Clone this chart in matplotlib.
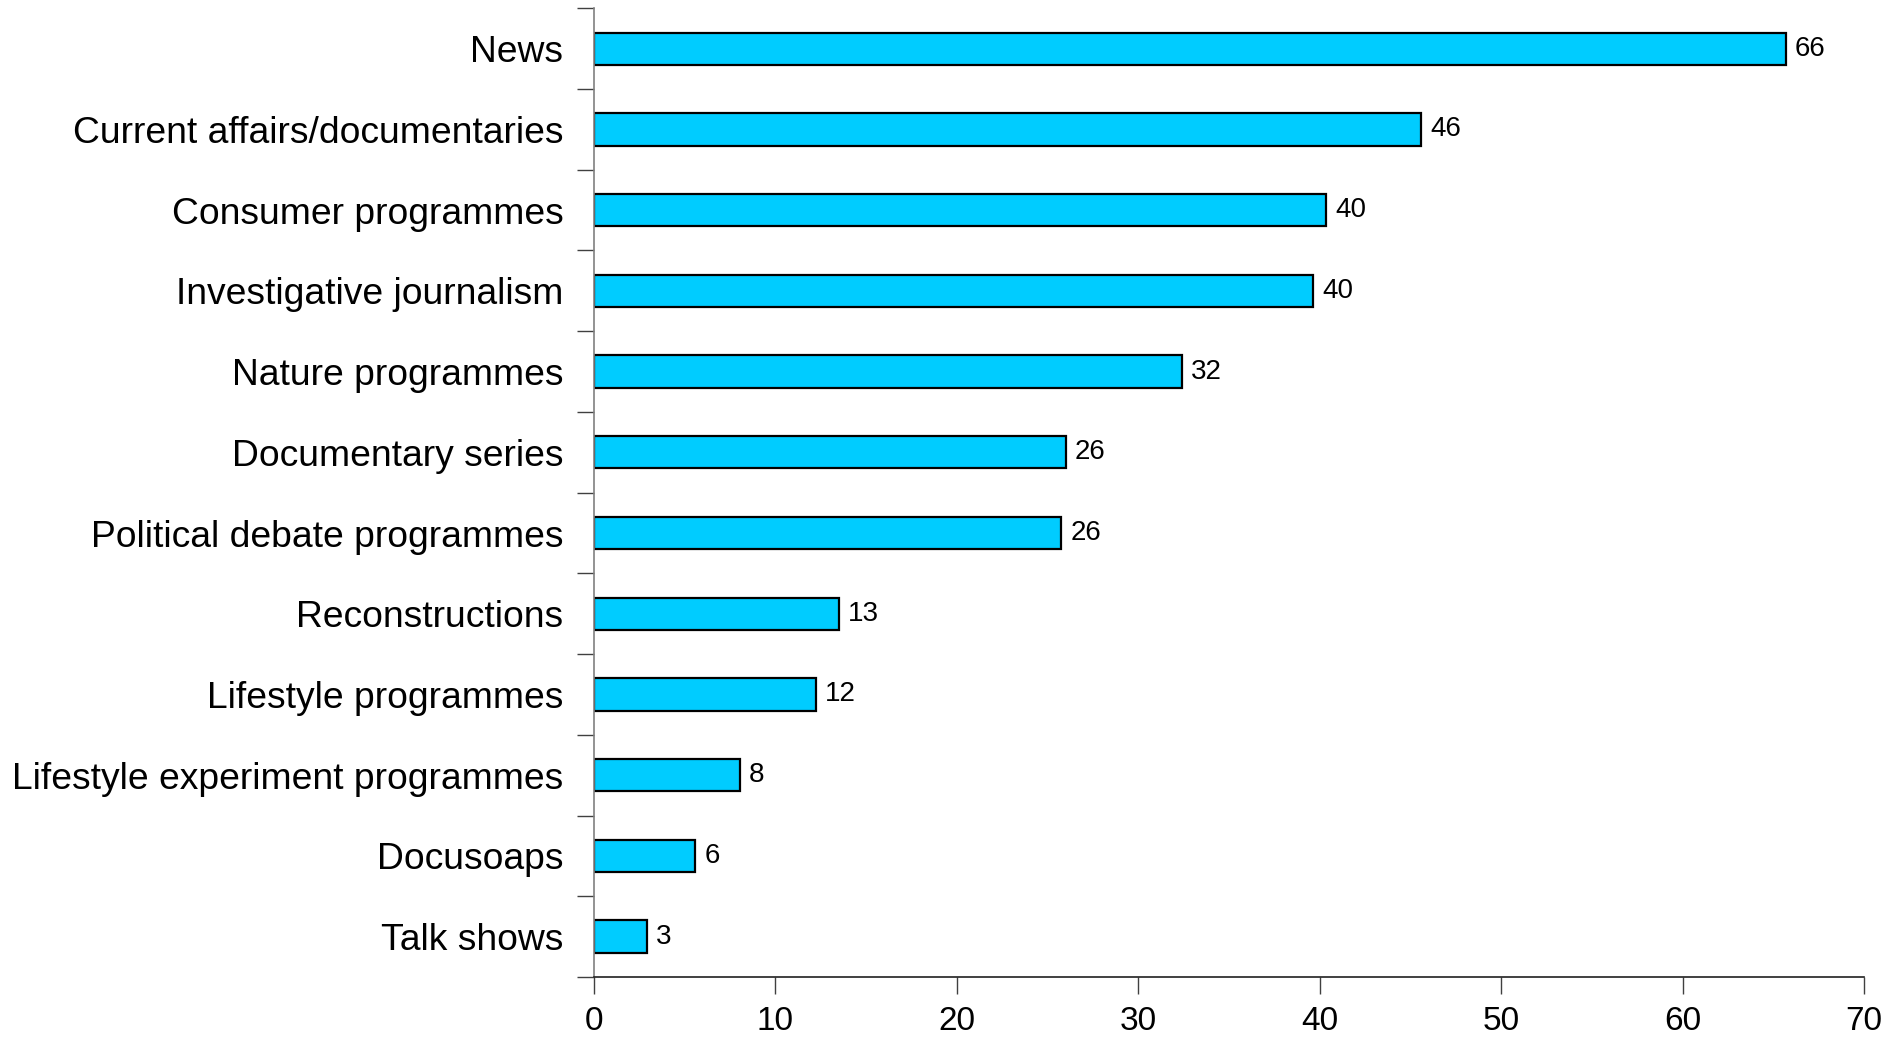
import matplotlib.pyplot as plt
from matplotlib.ticker import FixedLocator, MultipleLocator

plt.rcParams['font.family'] = ['Liberation Sans', 'DejaVu Sans']

categories = [
    "News",
    "Current affairs/documentaries",
    "Consumer programmes",
    "Investigative journalism",
    "Nature programmes",
    "Documentary series",
    "Political debate programmes",
    "Reconstructions",
    "Lifestyle programmes",
    "Lifestyle experiment programmes",
    "Docusoaps",
    "Talk shows",
]
values = [65.7, 45.6, 40.35, 39.65, 32.4, 26.0, 25.75, 13.5, 12.25, 8.05, 5.57, 2.9]
value_labels = ["66", "46", "40", "40", "32", "26", "26", "13", "12", "8", "6", "3"]

fig = plt.figure(figsize=(19.04, 10.4), dpi=100)
ax = fig.add_axes([0.312, 0.0606, 0.667, 0.9314])

pos = list(range(len(categories)))
bars = ax.barh(pos, values, height=0.4, color="#00CCFF", edgecolor="black", linewidth=1.6)

for b, lab in zip(bars, value_labels):
    ax.text(b.get_width() + 0.5, b.get_y() + b.get_height() / 2, lab,
            va="center", ha="left", fontsize=20)

ax.set_ylim(len(categories) - 0.5, -0.5)
ax.set_xlim(0, 70)
ax.xaxis.set_major_locator(MultipleLocator(10))

ax.set_yticks(pos)
ax.set_yticklabels(categories)
ax.yaxis.set_minor_locator(FixedLocator([i - 0.5 for i in range(len(categories) + 1)]))
ax.tick_params(axis="y", which="major", length=0, pad=22, labelsize=26.8)
ax.tick_params(axis="y", which="minor", length=12, width=1, color="#404040")
ax.tick_params(axis="x", which="major", length=12, width=1, color="#404040", pad=9, labelsize=24)

for side in ["top", "right"]:
    ax.spines[side].set_visible(False)
ax.spines["left"].set_color("#808080")
ax.spines["left"].set_linewidth(1.2)
ax.spines["bottom"].set_color("#202020")
ax.spines["bottom"].set_linewidth(1.2)

fig.savefig("out.png", dpi=100)
